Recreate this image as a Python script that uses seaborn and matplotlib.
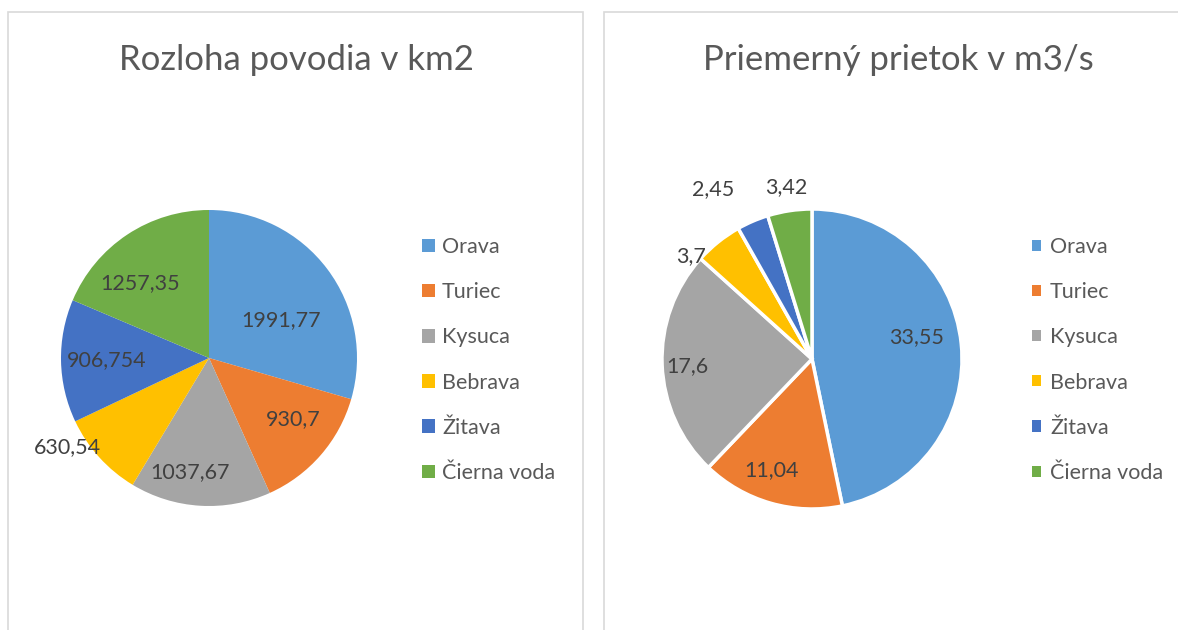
import matplotlib
matplotlib.use('Agg')
import matplotlib.pyplot as plt
from matplotlib.patches import Patch, Rectangle
import numpy as np
import seaborn as sns

# Data
rieky = ['Orava', 'Turiec', 'Kysuca', 'Bebrava', 'Žitava', 'Čierna voda']
rozloha = [1991.77, 930.7, 1037.67, 630.54, 906.754, 1257.35]
rozloha_txt = ['1991,77', '930,7', '1037,67', '630,54', '906,754', '1257,35']
prietok = [33.55, 11.04, 17.6, 3.7, 2.45, 3.42]
prietok_txt = ['33,55', '11,04', '17,6', '3,7', '2,45', '3,42']

farby = sns.color_palette(['#5B9BD5', '#ED7D31', '#A5A5A5', '#FFC000', '#4472C4', '#70AD47'])

sns.set_theme(style='white')
plt.rcParams['font.family'] = ['Lato', 'DejaVu Sans']

W, H = 1178, 630
fig = plt.figure(figsize=(W / 100, H / 100), dpi=100)
fig.patch.set_facecolor('white')

# ramčeky grafov
for x0, x1 in [(8, 583), (604, 1190)]:
    fig.patches.append(Rectangle((x0 / W, -0.05), (x1 - x0) / W, (H - 12) / H + 0.05,
                                 transform=fig.transFigure, fill=False,
                                 edgecolor='#D9D9D9', linewidth=1.2))


def kolac(cx, cy, r, hodnoty, texty, nadpis, nx, vzdial, posun, hrana,
          leg_x, kocka, medzera):
    ax = fig.add_axes([(cx - r) / W, (H - cy - r) / H, 2 * r / W, 2 * r / H])
    wedges, _ = ax.pie(hodnoty, colors=farby, startangle=90, counterclock=False,
                       wedgeprops=dict(edgecolor='white', linewidth=hrana))
    ax.set_xlim(-1, 1)
    ax.set_ylim(-1, 1)
    ax.set_aspect('equal')
    # popisky v strede výseku (posun = pootočenie v smere hodín)
    for w, t, d, p in zip(wedges, texty, vzdial, posun):
        uhol = np.deg2rad((w.theta1 + w.theta2) / 2 - p)
        ax.text(d * np.cos(uhol), d * np.sin(uhol), t, ha='center', va='center',
                fontsize=15.5, color='#404040')
    fig.text(nx / W, 1 - 60 / H, nadpis, ha='center', va='center',
             fontsize=25, color='#595959')
    handles = [Patch(facecolor=c, edgecolor='none') for c in farby]
    fig.legend(handles, rieky, loc='upper left',
               bbox_to_anchor=(leg_x / W, 1 - 237 / H), frameon=False,
               fontsize=15.5, labelcolor='#595959', handlelength=kocka,
               handleheight=kocka, handletextpad=medzera, labelspacing=1.17,
               borderpad=0, borderaxespad=0)


kolac(209, 358, 148, rozloha, rozloha_txt, 'Rozloha povodia v km2', 296,
      [0.55, 0.70, 0.78, 1.13, 0.69, 0.69], [9, -5, 6, 10, 0, -9], 0,
      422, 0.6, 0.33)
kolac(812, 359, 150, prietok, prietok_txt, 'Priemerný prietok v m3/s', 898,
      [0.71, 0.79, 0.83, 1.06, 1.31, 1.16], [-6, 4, -1, -11, -7, 0], 2.5,
      1032, 0.42, 0.42)

plt.savefig('out.png', dpi=100)
